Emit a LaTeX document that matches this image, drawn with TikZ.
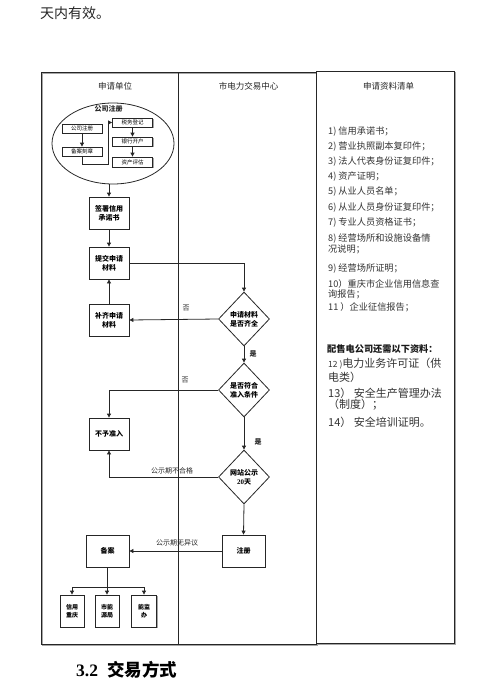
\documentclass[tikz,border=0pt]{standalone}
\usepackage{fontspec}
\setmainfont{Noto Sans CJK SC}
\newfontfamily\seriffont{Liberation Serif}
\usetikzlibrary{shapes.geometric,arrows.meta,shadows}
\begin{document}
\begin{tikzpicture}[x=1pt,y=-1pt,
  ln/.style={draw=black!85, line width=0.8pt},
  arr/.style={ln, -{Triangle[length=4pt,width=4pt]}},
  shadowed/.style={drop shadow={shadow xshift=1pt,shadow yshift=-1pt,fill=black!35,opacity=1}},
  box/.style={ln, fill=white, shadowed, inner sep=0pt, align=center, font=\fontsize{7}{9}\selectfont\bfseries},
  sbox/.style={ln, fill=white, shadowed, inner sep=0pt, align=center, minimum width=40pt, minimum height=9pt, font=\fontsize{5.5}{6}\selectfont},
  dia/.style={ln, fill=white, diamond, inner sep=0pt, minimum width=51pt, minimum height=54pt, align=center, font=\fontsize{7}{9}\selectfont\bfseries},
  lbl/.style={inner sep=0pt, font=\fontsize{7}{8}\selectfont, text=black!85},
  hdr/.style={inner sep=0pt, font=\fontsize{8.5}{10}\selectfont, text=black!85},
  itm/.style={inner sep=0pt, anchor=west, font=\fontsize{9.2}{10}\selectfont, text=black!80},
  big/.style={inner sep=0pt, anchor=west, font=\fontsize{11}{13}\selectfont, text=black!80}
]
\useasboundingbox (0,0) rectangle (501,691);
% page texts
\node[inner sep=0pt, anchor=west, font=\fontsize{14}{16}\selectfont, text=black!85] (toptext) at (40,13) {天内有效。};
\node[inner sep=0pt, anchor=west, font=\fontsize{17.5}{19}\selectfont] (sect) at (76,669.5) {{\seriffont\bfseries 3.2}\hspace{9pt}{\bfseries 交易方式}};
% frames
\draw[black!35, line width=0.8pt] (42,73) rectangle (317,645);
\draw[ln] (41,72) rectangle (316,644);
\draw[ln] (178,72) -- (178,644);
\draw[black!35, line width=0.8pt] (317,72) rectangle (455,644);
\draw[ln, fill=white] (316,71) rectangle (454,643);
% headers
\node[hdr] (h1) at (115,86) {申请单位};
\node[hdr] (h2) at (248.5,86) {市电力交易中心};
\node[hdr] (h3) at (388.5,86) {申请资料清单};
% ellipse group
\node[ln, ellipse, inner sep=0pt, minimum width=122pt, minimum height=81pt] (ell) at (113,143.5) {};
\node[lbl, font=\fontsize{7}{8}\selectfont\bfseries] (elltitle) at (108.5,109) {公司注册};
\node[sbox] (b1) at (82,128.5) {公司注册};
\node[sbox] (b2) at (82,151.5) {备案刻章};
\node[sbox] (b3) at (132.5,122.5) {税务登记};
\node[sbox] (b4) at (132.5,141.5) {银行开户};
\node[sbox, minimum height=10pt] (b5) at (132.5,162) {资产评估};
\draw[arr] (b1) -- (b2);
\draw[arr] (b2.south) -- ++(0,8) -- ++(26,0) |- (b3.west);
\draw[arr] (b3) -- (b4);
\draw[arr] (b4) -- (b5);
% left lane boxes
\node[box, minimum width=40pt, minimum height=32pt] (s1) at (109,213) {签署信用\\承诺书};
\node[box, minimum width=40pt, minimum height=32pt] (s2) at (109,263) {提交申请\\材料};
\node[box, minimum width=40pt, minimum height=32pt] (s3) at (109,320) {补齐申请\\材料};
\node[box, minimum width=40pt, minimum height=32pt] (n1) at (109,434) {不予准入};
\node[box, minimum width=43pt, minimum height=32pt] (ba) at (107.5,551) {备案};
\node[box, minimum width=24pt, minimum height=32pt, font=\fontsize{6}{8}\selectfont\bfseries] (c1) at (72,611) {信用\\重庆};
\node[box, minimum width=24pt, minimum height=32pt, font=\fontsize{6}{8}\selectfont\bfseries] (c2) at (107,611) {市能\\源局};
\node[box, minimum width=25pt, minimum height=32pt, font=\fontsize{6}{8}\selectfont\bfseries] (c3) at (144,611) {能监\\办};
% centre lane
\node[dia] (d1) at (244,319) {申请材料\\是否齐全};
\node[dia] (d2) at (244,390) {是否符合\\准入条件};
\node[dia] (d3) at (244,477) {网站公示\\{\seriffont\bfseries 20}天};
\node[box, minimum width=43pt, minimum height=32pt] (reg) at (243.5,551) {注册};
% connectors
\draw[arr] (ell.south -| s1.north) -- (s1.north);
\draw[arr] (s1) -- (s2);
\draw[arr] (s3) -- (s2);
\draw[arr] (s2.east) -| (d1.north);
\draw[arr] (d1.west) -- (s3.east);
\draw[arr] (d1.south) -- (d2.north);
\draw[arr] (d2.west) -| (n1.north);
\draw[arr] (d2.south) -- (d3.north);
\draw[arr] (d3.west) -| (n1.south);
\draw[arr] (d3.south) -- (reg.north);
\draw[arr] (reg.west) -- (ba.east);
\coordinate (j) at (107,587);
\draw[ln] (ba.south -| j) -- (j);
\draw[arr] (j) -| (c1.north);
\draw[arr] (j) -| (c3.north);
\draw[arr] (j) -- (c2.north);
% connector labels
\node[lbl] (no1) at (186,308) {否};
\node[lbl, font=\fontsize{7}{8}\selectfont\bfseries] (yes1) at (253,354) {是};
\node[lbl] (no2) at (185,380) {否};
\node[lbl, font=\fontsize{7}{8}\selectfont\bfseries] (yes2) at (258,442) {是};
\node[lbl] (fail) at (172,471) {公示期不合格};
\node[lbl] (ok) at (177,543) {公示期无异议};
% list
\node[itm] (i1) at (328,132) {1)\ 信用承诺书；};
\node[itm] (i2) at (328,147) {2)\ 营业执照副本复印件；};
\node[itm] (i3) at (328,162) {3)\ 法人代表身份证复印件；};
\node[itm] (i4) at (328,177) {4)\ 资产证明；};
\node[itm] (i5) at (328,192) {5)\ 从业人员名单；};
\node[itm] (i6) at (328,208) {6)\ 从业人员身份证复印件；};
\node[itm] (i7) at (328,223) {7)\ 专业人员资格证书；};
\node[itm] (i8a) at (328,238.5) {8)\ 经营场所和设施设备情};
\node[itm] (i8b) at (328,249) {况说明；};
\node[itm] (i9) at (328,269) {9)\ 经营场所证明；};
\node[itm] (i10a) at (328,283.5) {10）重庆市企业信用信息查};
\node[itm] (i10b) at (328,294) {询报告；};
\node[itm] (i11) at (328,307.5) {11 ）企业征信报告；};
\node[itm, font=\fontsize{9.2}{10}\selectfont\bfseries, text=black!90] (extra) at (327,349) {配售电公司还需以下资料：};
\node[big] (i12a) at (328,364) {{\fontsize{8.5}{10}\selectfont 12 )}电力业务许可证（供};
\node[big] (i12b) at (328,377) {电类）};
\node[big] (i13a) at (328,393) {13） 安全生产管理办法};
\node[big] (i13b) at (328,404.5) {（制度）；};
\node[big] (i14) at (328,422) {14） 安全培训证明。};
\end{tikzpicture}
\end{document}
